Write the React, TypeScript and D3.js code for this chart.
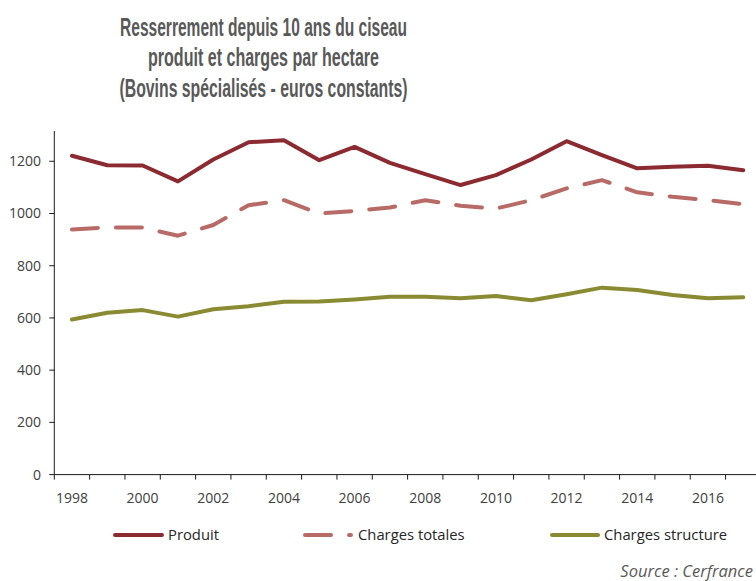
import React from "react";
import * as d3 from "d3";

const years = [1998, 1999, 2000, 2001, 2002, 2003, 2004, 2005, 2006, 2007, 2008, 2009, 2010, 2011, 2012, 2013, 2014, 2015, 2016, 2017];
const produit = [1221, 1185, 1184, 1123, 1207, 1273, 1281, 1204, 1255, 1194, 1151, 1109, 1147, 1207, 1277, 1224, 1173, 1179, 1183, 1166];
const chargesTotales = [939, 947, 946, 915, 956, 1032, 1051, 1000, 1010, 1023, 1051, 1030, 1019, 1051, 1096, 1128, 1081, 1064, 1051, 1036];
const chargesStructure = [594, 620, 630, 605, 633, 645, 662, 663, 671, 681, 681, 675, 684, 668, 691, 716, 707, 688, 675, 679];
const yTicks = [0, 200, 400, 600, 800, 1000, 1200];
const xLabels = [1998, 2000, 2002, 2004, 2006, 2008, 2010, 2012, 2014, 2016];
const titleLines = [
  "Resserrement depuis 10 ans du ciseau",
  "produit et charges par hectare",
  "(Bovins spécialisés - euros constants)",
];
const seriesNames = ["Produit", "Charges totales", "Charges structure"];

const W = 756;
const H = 581;
const left = 54.3;
const step = 35.33;
const bottom = 474.6;
const top = 131;

export default function App() {
  const x = d3.scaleBand<number>().domain(years).range([left, left + step * years.length]).paddingInner(0).paddingOuter(0);
  const y = d3.scaleLinear().domain([0, 1316]).range([bottom, top]);
  const cx = (yr: number) => (x(yr) as number) + x.bandwidth() / 2;
  const line = d3
    .line<number>()
    .x((_, i) => cx(years[i]))
    .y((d) => y(d));

  const series = [
    { name: seriesNames[0], values: produit, color: "#8B2A30", dash: undefined },
    { name: seriesNames[1], values: chargesTotales, color: "#B86B66", dash: "26 18" },
    { name: seriesNames[2], values: chargesStructure, color: "#8A8A32", dash: undefined },
  ];

  const boundaries = d3.range(years.length + 1).map((i) => left + i * x.bandwidth());
  const titleWidths = [287, 231, 288];
  const titleBase = [35.5, 66, 96.5];

  const legend = [
    { x1: 115, x2: 162, tx: 168 },
    { x1: 305, x2: 351, tx: 358 },
    { x1: 552, x2: 598, tx: 604 },
  ];

  return (
    <svg width={W} height={H} style={{ position: "absolute", left: 0, top: 0, background: "#fff" }}>
      {titleLines.map((t, i) => (
        <text
          key={t}
          x={263.5}
          y={titleBase[i]}
          textAnchor="middle"
          fontFamily="'Liberation Sans', Arial, sans-serif"
          fontWeight={700}
          fontSize={25}
          fill="#595959"
          textLength={titleWidths[i]}
          lengthAdjust="spacingAndGlyphs"
        >
          {t}
        </text>
      ))}

      {/* y axis */}
      <line x1={left} x2={left} y1={top} y2={bottom} stroke="#1a1a1a" strokeWidth={1} />
      {yTicks.map((t) => (
        <g key={t}>
          <line x1={left - 5} x2={left} y1={y(t)} y2={y(t)} stroke="#1a1a1a" strokeWidth={1} />
          <text x={41} y={y(t)} dy="0.35em" textAnchor="end" fontFamily="'Open Sans', sans-serif" fontSize={14} fill="#404040">
            {t}
          </text>
        </g>
      ))}

      {/* x axis */}
      <line x1={left} x2={W} y1={bottom} y2={bottom} stroke="#1a1a1a" strokeWidth={1} />
      {boundaries.map((b, i) => (
        <line key={i} x1={b} x2={b} y1={bottom} y2={bottom + 5} stroke="#1a1a1a" strokeWidth={1} />
      ))}
      {xLabels.map((yr) => (
        <text key={yr} x={cx(yr)} y={503} textAnchor="middle" fontFamily="'Open Sans', sans-serif" fontSize={14} fill="#404040">
          {yr}
        </text>
      ))}

      {/* series */}
      {series.map((s) => (
        <path
          key={s.name}
          d={line(s.values) as string}
          fill="none"
          stroke={s.color}
          strokeWidth={4}
          strokeLinejoin="round"
          strokeLinecap="round"
          strokeDasharray={s.dash}
        />
      ))}

      {/* legend */}
      {series.map((s, i) => (
        <g key={s.name}>
          <line
            x1={legend[i].x1}
            x2={legend[i].x2}
            y1={535}
            y2={535}
            stroke={s.color}
            strokeWidth={4}
            strokeLinecap="round"
            strokeDasharray={s.dash}
          />
          <text x={legend[i].tx} y={535} dy="0.35em" fontFamily="'Open Sans', sans-serif" fontSize={14.8} fill="#262626">
            {s.name}
          </text>
        </g>
      ))}

      <text x={753} y={571} dy="0.35em" textAnchor="end" fontFamily="'Open Sans', sans-serif" fontStyle="italic" fontSize={16.5} fill="#595959">
        Source : Cerfrance
      </text>
    </svg>
  );
}
